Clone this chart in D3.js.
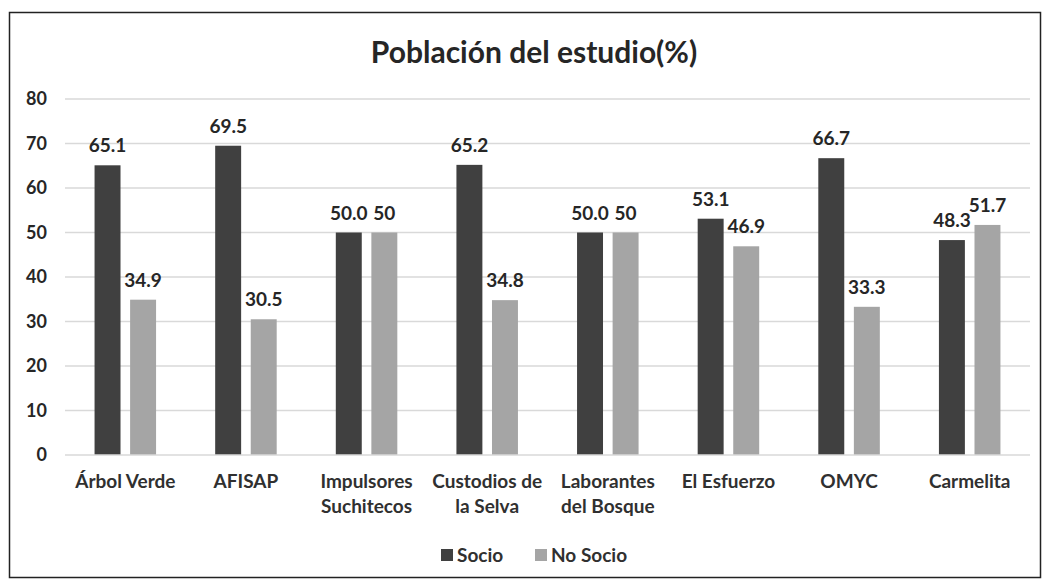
<!DOCTYPE html>
<html>
<head>
<meta charset="utf-8">
<script src="https://cdn.jsdelivr.net/npm/d3@7"></script>
<style>
  body { margin: 0; background: #fff; }
  text { font-family: Lato, "Open Sans", sans-serif; font-weight: bold; }
</style>
</head>
<body>
<script>
// categories and series
var categories = ['Árbol Verde', 'AFISAP', 'Impulsores Suchitecos', 'Custodios de la Selva',
                  'Laborantes del Bosque', 'El Esfuerzo', 'OMYC', 'Carmelita'];
var catLines = [['Árbol Verde'], ['AFISAP'], ['Impulsores', 'Suchitecos'], ['Custodios de', 'la Selva'],
                ['Laborantes', 'del Bosque'], ['El Esfuerzo'], ['OMYC'], ['Carmelita']];
var series = ['Socio', 'No Socio'];
var socio = [65.1, 69.5, 50.0, 65.2, 50.0, 53.1, 66.7, 48.3];
var noSocio = [34.9, 30.5, 50, 34.8, 50, 46.9, 33.3, 51.7];
var socioLabels = ['65.1', '69.5', '50.0', '65.2', '50.0', '53.1', '66.7', '48.3'];
var noSocioLabels = ['34.9', '30.5', '50', '34.8', '50', '46.9', '33.3', '51.7'];
var yTicks = [0, 10, 20, 30, 40, 50, 60, 70, 80];

var colors = { 'Socio': '#404040', 'No Socio': '#a5a5a5' };

var W = 1044, H = 581;
var pLeft = 65, pRight = 1030, pTop = 99, pBottom = 455;

var svg = d3.select('body').append('svg')
    .attr('width', W)
    .attr('height', H);

// chart frame
svg.append('rect')
    .attr('x', 9.5).attr('y', 12.5)
    .attr('width', 1031).attr('height', 565)
    .attr('fill', '#fff')
    .attr('stroke', '#222')
    .attr('stroke-width', 1.5);

var y = d3.scaleLinear().domain([0, 80]).range([pBottom, pTop]);

var x0 = d3.scaleBand().domain(categories).range([pLeft, pRight])
    .paddingInner(0.49).paddingOuter(0.245);
var x1 = d3.scaleBand().domain(series).range([0, x0.bandwidth()])
    .paddingInner(0.27).paddingOuter(0);

// gridlines
svg.append('g').selectAll('line')
  .data(yTicks.slice(1))
  .enter().append('line')
    .attr('x1', pLeft).attr('x2', pRight)
    .attr('y1', function(d) { return y(d); })
    .attr('y2', function(d) { return y(d); })
    .attr('stroke', '#d9d9d9')
    .attr('stroke-width', 1.5);

// y axis labels
var yAxis = d3.axisLeft(y).tickValues(yTicks).tickSize(0).tickPadding(0);
var yg = svg.append('g')
    .attr('transform', 'translate(47,0)')
    .call(yAxis);
yg.select('.domain').remove();
yg.selectAll('text')
    .attr('font-size', 18)
    .attr('fill', '#262626')
    .style('font-family', 'Lato, sans-serif')
    .style('font-weight', 'bold');

var rows = categories.map(function(c, i) {
  return [
    { cat: c, key: 'Socio', value: socio[i], label: socioLabels[i] },
    { cat: c, key: 'No Socio', value: noSocio[i], label: noSocioLabels[i] }
  ];
});

var groups = svg.append('g').selectAll('g')
  .data(rows)
  .enter().append('g')
    .attr('transform', function(d) { return 'translate(' + x0(d[0].cat) + ',0)'; });

groups.selectAll('rect')
  .data(function(d) { return d; })
  .enter().append('rect')
    .attr('x', function(d) { return x1(d.key); })
    .attr('y', function(d) { return y(d.value); })
    .attr('width', x1.bandwidth())
    .attr('height', function(d) { return y(0) - y(d.value); })
    .attr('fill', function(d) { return colors[d.key]; });

groups.selectAll('text.lbl')
  .data(function(d) { return d; })
  .enter().append('text')
    .attr('class', 'lbl')
    .attr('x', function(d) { return x1(d.key) + x1.bandwidth() / 2; })
    .attr('y', function(d) { return y(d.value) - 13; })
    .attr('text-anchor', 'middle')
    .attr('font-size', 19)
    .attr('fill', '#262626')
    .text(function(d) { return d.label; });

// x axis baseline
svg.append('line')
    .attr('x1', pLeft).attr('x2', pRight)
    .attr('y1', y(0)).attr('y2', y(0))
    .attr('stroke', '#d9d9d9')
    .attr('stroke-width', 1.5);

// category labels
var xg = svg.append('g').selectAll('text')
  .data(categories)
  .enter().append('text')
    .attr('x', function(d) { return x0(d) + x0.bandwidth() / 2; })
    .attr('y', 488)
    .attr('text-anchor', 'middle')
    .attr('font-size', 19)
    .attr('fill', '#303030');
xg.each(function(d, i) {
  var t = d3.select(this);
  catLines[i].forEach(function(line, j) {
    t.append('tspan')
      .attr('x', x0(d) + x0.bandwidth() / 2)
      .attr('dy', j === 0 ? 0 : 25)
      .text(line);
  });
});

// title
svg.append('text')
    .attr('x', 534).attr('y', 63)
    .attr('text-anchor', 'middle')
    .attr('font-size', 30)
    .attr('fill', '#262626')
    .text('Población del estudio(%)');

// legend
var legend = svg.append('g').attr('transform', 'translate(441,555)');
var legendX = [0, 94];
series.forEach(function(s, i) {
  var g = legend.append('g').attr('transform', 'translate(' + legendX[i] + ',0)');
  g.append('rect')
    .attr('x', 0).attr('y', -6)
    .attr('width', 12).attr('height', 12)
    .attr('fill', colors[s]);
  g.append('text')
    .attr('x', 16).attr('y', 7)
    .attr('font-size', 19)
    .attr('fill', '#303030')
    .text(s);
});
</script>
</body>
</html>
